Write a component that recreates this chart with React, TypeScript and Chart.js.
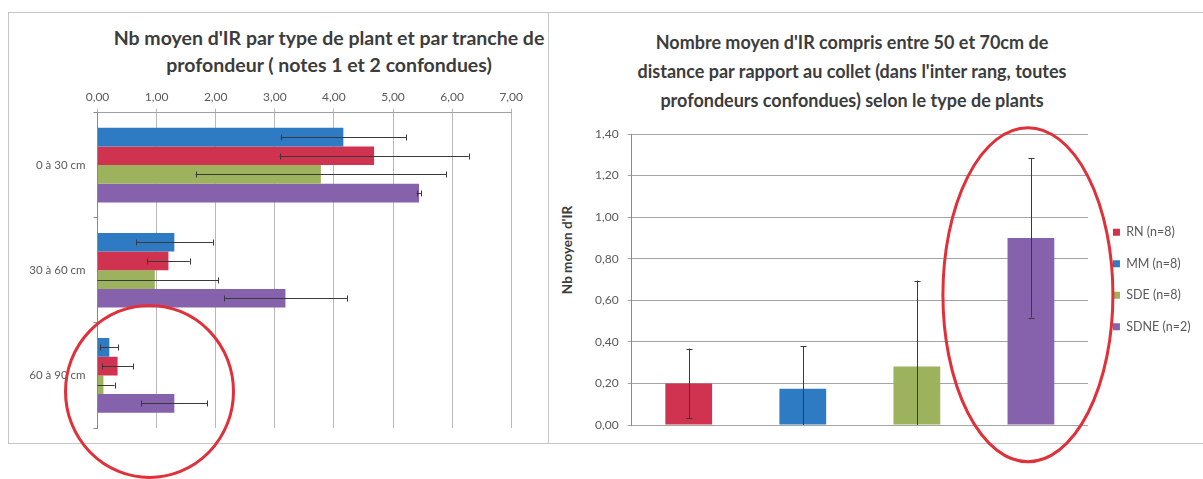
import React, { useEffect, useRef } from "react";
import { Chart, registerables } from "chart.js";

Chart.register(...registerables);

// ---------- Left chart data (horizontal bars by depth) ----------
const depthCategories = ["0 à 30 cm", "30 à 60 cm", "60 à 90 cm"];
const depthTickLabels = ["0,00", "1,00", "2,00", "3,00", "4,00", "5,00", "6,00", "7,00"];
const mmDepth = [4.16, 1.3, 0.2];
const mmDepthErr = [1.06, 0.65, 0.15];
const rnDepth = [4.68, 1.2, 0.34];
const rnDepthErr = [1.6, 0.36, 0.26];
const sdeDepth = [3.78, 0.97, 0.1];
const sdeDepthErr = [2.12, 1.07, 0.19];
const sdneDepth = [5.44, 3.18, 1.3];
const sdneDepthErr = [0.04, 1.04, 0.56];

// ---------- Right chart data (inter-row 50-70 cm) ----------
const plantTypes = ["RN (n=8)", "MM (n=8)", "SDE (n=8)", "SDNE (n=2)"];
const interRowMeans = [0.2, 0.174, 0.282, 0.9];
const interRowErr = [0.168, 0.205, 0.413, 0.383];
const interRowTickLabels = ["0,00", "0,20", "0,40", "0,60", "0,80", "1,00", "1,20", "1,40"];

const leftTitle = ["Nb moyen d'IR par type de plant et par tranche de", "profondeur ( notes 1 et 2 confondues)"];
const rightTitle = [
  "Nombre moyen d'IR compris entre 50 et 70cm de",
  "distance par rapport au collet (dans l'inter rang, toutes",
  "profondeurs confondues) selon le type de plants",
];
const rightAxisTitle = "Nb moyen d'IR";

const RED = "#CF3350";
const BLUE = "#2E7BC4";
const GREEN = "#9CB25C";
const PURPLE = "#8662AC";
const plantColors = [RED, BLUE, GREEN, PURPLE];

const FONT = "Lato, 'Open Sans', sans-serif";
const TICK_COLOR = "#5a5a5a";

const errorBarPlugin = {
  id: "errorBars",
  afterDatasetsDraw(chart: any, _args: any, opts: any) {
    const ctx = chart.ctx;
    const horizontal = chart.options.indexAxis === "y";
    const valueScale = horizontal ? chart.scales.x : chart.scales.y;
    const cap = opts.cap ?? 3;
    chart.data.datasets.forEach((ds: any, di: number) => {
      const errs = ds.errors;
      if (!errs) return;
      const meta = chart.getDatasetMeta(di);
      meta.data.forEach((el: any, i: number) => {
        const v = ds.data[i];
        const e = errs[i];
        if (v == null || e == null) return;
        const loRaw = v - e;
        const lo = Math.max(loRaw, valueScale.min);
        const hi = v + e;
        const pLo = valueScale.getPixelForValue(lo);
        const pHi = valueScale.getPixelForValue(hi);
        const c = horizontal ? el.y : el.x;
        ctx.save();
        ctx.strokeStyle = opts.color || "#3a3a3a";
        ctx.lineWidth = 1;
        ctx.beginPath();
        if (horizontal) {
          const cy = Math.round(c) + 0.5;
          ctx.moveTo(pLo, cy);
          ctx.lineTo(pHi, cy);
          ctx.moveTo(Math.round(pHi) + 0.5, cy - cap);
          ctx.lineTo(Math.round(pHi) + 0.5, cy + cap);
          if (loRaw >= valueScale.min) {
            ctx.moveTo(Math.round(pLo) + 0.5, cy - cap);
            ctx.lineTo(Math.round(pLo) + 0.5, cy + cap);
          }
        } else {
          const cx = Math.round(c) + 0.5;
          ctx.moveTo(cx, pLo);
          ctx.lineTo(cx, pHi);
          ctx.moveTo(cx - cap, Math.round(pHi) + 0.5);
          ctx.lineTo(cx + cap, Math.round(pHi) + 0.5);
          if (loRaw >= valueScale.min) {
            ctx.moveTo(cx - cap, Math.round(pLo) + 0.5);
            ctx.lineTo(cx + cap, Math.round(pLo) + 0.5);
          }
        }
        ctx.stroke();
        ctx.restore();
      });
    });
  },
};

const ellipsePlugin = {
  id: "highlightEllipse",
  afterDraw(chart: any, _args: any, opts: any) {
    if (!opts || !opts.items) return;
    const ctx = chart.ctx;
    opts.items.forEach((it: any) => {
      const xs = chart.scales[it.xScale];
      const ys = chart.scales[it.yScale];
      const cx = xs.getPixelForValue(it.x) + (it.dx || 0);
      const cy = ys.getPixelForValue(it.y) + (it.dy || 0);
      ctx.save();
      ctx.strokeStyle = opts.color || "#E0303A";
      ctx.lineWidth = opts.width || 3;
      ctx.beginPath();
      ctx.ellipse(cx, cy, it.rx, it.ry, it.rotation || 0, 0, Math.PI * 2);
      ctx.stroke();
      ctx.restore();
    });
  },
};

// nudges the legend block horizontally without changing the plot area
const legendShiftPlugin = {
  id: "legendShift",
  afterLayout(chart: any, _args: any, opts: any) {
    const dx = (opts && opts.dx) || 0;
    if (chart.legend && dx) {
      chart.legend.left += dx;
      chart.legend.right += dx;
    }
  },
};

function leftConfig(): any {
  return {
    type: "bar",
    data: {
      labels: depthCategories,
      datasets: [
        { label: "MM", data: mmDepth, errors: mmDepthErr, backgroundColor: BLUE },
        { label: "RN", data: rnDepth, errors: rnDepthErr, backgroundColor: RED },
        { label: "SDE", data: sdeDepth, errors: sdeDepthErr, backgroundColor: GREEN },
        { label: "SDNE", data: sdneDepth, errors: sdneDepthErr, backgroundColor: PURPLE },
      ],
    },
    plugins: [errorBarPlugin, ellipsePlugin],
    options: {
      indexAxis: "y",
      animation: false,
      responsive: false,
      events: [],
      datasets: { bar: { categoryPercentage: 0.71, barPercentage: 1 } },
      layout: { padding: { left: 0, right: 36.8, top: 0, bottom: 51 } },
      plugins: {
        legend: { display: false },
        title: { display: false },
        tooltip: { enabled: false },
        errorBars: { color: "#3a3a3a", cap: 3 },
        highlightEllipse: {
          color: "#E0303A",
          width: 3,
          items: [{ xScale: "x", yScale: "y", x: 0.88, y: 2, dx: 0, dy: 16, rx: 84, ry: 86, rotation: 0 }],
        },
      },
      scales: {
        x: {
          position: "top",
          min: 0,
          max: 7,
          ticks: {
            stepSize: 1,
            padding: 4,
            color: TICK_COLOR,
            font: { family: FONT, size: 12 },
            callback: (_v: any, i: number) => depthTickLabels[i],
          },
          grid: { color: "#b8b8b8", tickLength: 4 },
          border: { color: "#a0a0a0" },
          afterFit: (s: any) => {
            s.height = 112.5;
          },
        },
        y: {
          ticks: { padding: 8, color: TICK_COLOR, font: { family: FONT, size: 11.5 } },
          grid: { drawOnChartArea: false, offset: true, tickLength: 4, color: "#8a8a8a" },
          border: { color: "#8a8a8a" },
          afterFit: (s: any) => {
            s.width = 97.5;
          },
        },
      },
    },
  };
}

function rightConfig(): any {
  return {
    type: "bar",
    data: {
      labels: plantTypes,
      datasets: plantTypes.map((lab, i) => ({
        label: lab,
        data: plantTypes.map((_, j) => (j === i ? interRowMeans[i] : null)),
        errors: plantTypes.map((_, j) => (j === i ? interRowErr[i] : null)),
        backgroundColor: plantColors[i],
        skipNull: true,
      })),
    },
    plugins: [errorBarPlugin, ellipsePlugin, legendShiftPlugin],
    options: {
      animation: false,
      responsive: false,
      events: [],
      datasets: { bar: { categoryPercentage: 0.41, barPercentage: 1 } },
      layout: { padding: { left: 0, right: 8.5, top: 134, bottom: 54 } },
      plugins: {
        legend: {
          display: true,
          position: "right",
          labels: {
            boxWidth: 7,
            boxHeight: 7,
            padding: 19,
            color: TICK_COLOR,
            font: { family: FONT, size: 12.5 },
          },
        },
        legendShift: { dx: 6 },
        title: { display: false },
        tooltip: { enabled: false },
        errorBars: { color: "#3a3a3a", cap: 3 },
        highlightEllipse: {
          color: "#E0303A",
          width: 3,
          items: [{ xScale: "x", yScale: "y", x: 3, y: 0.627, dx: -3, dy: 0, rx: 85, ry: 167, rotation: 0 }],
        },
      },
      scales: {
        x: { display: false },
        y: {
          min: 0,
          max: 1.4,
          ticks: {
            stepSize: 0.2,
            padding: 9,
            color: TICK_COLOR,
            font: { family: FONT, size: 12 },
            callback: (_v: any, i: number) => interRowTickLabels[i],
          },
          grid: { color: "#a4a4a4", tickLength: 4 },
          border: { color: "#8a8a8a" },
          afterFit: (s: any) => {
            s.width = 83.7;
          },
        },
      },
    },
  };
}

export default function App() {
  const leftRef = useRef<HTMLCanvasElement>(null);
  const rightRef = useRef<HTMLCanvasElement>(null);

  useEffect(() => {
    const c1 = new Chart(leftRef.current as HTMLCanvasElement, leftConfig());
    const c2 = new Chart(rightRef.current as HTMLCanvasElement, rightConfig());
    return () => {
      c1.destroy();
      c2.destroy();
    };
  }, []);

  const titleStyle: React.CSSProperties = {
    position: "absolute",
    textAlign: "center",
    fontFamily: FONT,
    fontWeight: 700,
    color: "#3c3c3c",
    whiteSpace: "nowrap",
  };

  return (
    <div
      style={{
        position: "absolute",
        left: 0,
        top: 0,
        width: 1203,
        height: 479,
        background: "#ffffff",
        overflow: "hidden",
      }}
    >
      <div
        style={{
          position: "absolute",
          left: 8,
          top: 12,
          width: 541,
          height: 432,
          border: "1px solid #c6c6c6",
          boxSizing: "border-box",
        }}
      />
      <div
        style={{
          position: "absolute",
          left: 548,
          top: 12,
          width: 655,
          height: 432,
          borderTop: "1px solid #c6c6c6",
          borderBottom: "1px solid #c6c6c6",
          borderLeft: "1px solid #c6c6c6",
          boxSizing: "border-box",
        }}
      />
      <div style={{ ...titleStyle, fontSize: 19.5, left: 79, width: 500, top: 23.5, lineHeight: "27px" }}>
        {leftTitle.map((l, i) => (
          <div key={i}>{l}</div>
        ))}
      </div>
      <div style={{ ...titleStyle, fontSize: 18, left: 602, width: 500, top: 28, lineHeight: "29px" }}>
        {rightTitle.map((l, i) => (
          <div key={i}>{l}</div>
        ))}
      </div>
      <div
        style={{
          position: "absolute",
          left: 567,
          top: 250,
          transform: "translate(-50%, -50%) rotate(-90deg)",
          fontFamily: FONT,
          fontWeight: 700,
          fontSize: 13.5,
          color: "#3c3c3c",
          whiteSpace: "nowrap",
        }}
      >
        {rightAxisTitle}
      </div>
      <canvas
        ref={leftRef}
        width={548}
        height={479}
        style={{ position: "absolute", left: 0, top: 0, width: 548, height: 479 }}
      />
      <canvas
        ref={rightRef}
        width={655}
        height={479}
        style={{ position: "absolute", left: 548, top: 0, width: 655, height: 479 }}
      />
    </div>
  );
}
